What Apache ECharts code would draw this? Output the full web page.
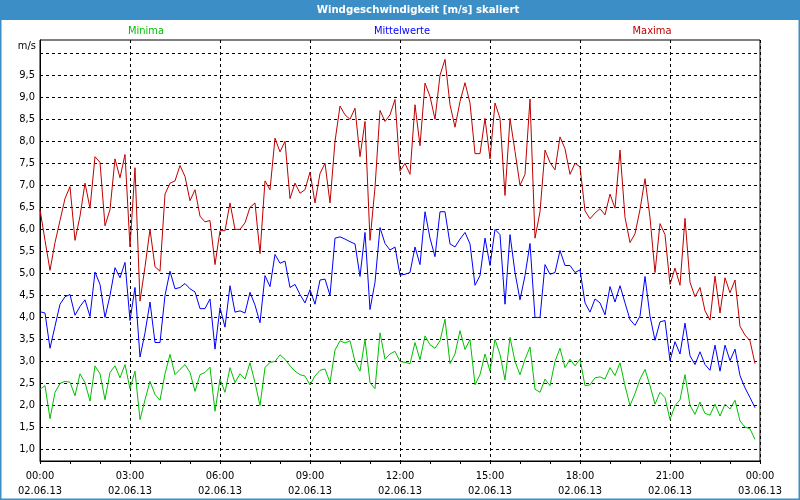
<!DOCTYPE html>
<html>
<head>
<meta charset="utf-8">
<script src="https://cdn.jsdelivr.net/npm/echarts@6/dist/echarts.min.js"></script>
<style>
html,body{margin:0;padding:0;background:#fff;}
#chart{width:800px;height:500px;}
</style>
</head>
<body>
<div id="chart"></div>
<script>
// ---- data (10-minute samples, 02.06.13 00:00 .. 23:50) ----
var stepHours = 10 / 60;
var maxima = [6.45,5.75,5.07,5.7,6.2,6.7,6.97,5.75,6.3,7.05,6.48,7.65,7.52,6.08,6.45,7.6,7.17,7.7,5.6,7.4,
4.37,5.15,6.0,5.15,5.05,6.8,7.05,7.1,7.45,7.2,6.65,6.9,6.3,6.17,6.2,5.2,5.97,5.97,6.6,6.0,
6.0,6.15,6.5,6.6,5.45,7.1,6.9,8.07,7.76,8.0,6.7,7.05,6.82,6.9,7.3,6.6,7.27,7.5,6.6,8.0,
8.8,8.6,8.5,8.75,7.65,8.45,5.75,6.95,8.7,8.45,8.6,8.95,7.32,7.5,7.25,8.83,7.9,9.32,9.02,8.5,
9.5,9.86,8.83,8.32,8.9,9.33,8.87,7.72,7.72,8.52,7.6,8.87,8.52,6.77,8.52,7.77,7.0,7.25,8.96,5.8,
6.4,7.8,7.52,7.35,8.1,7.83,7.25,7.5,7.42,6.42,6.24,6.37,6.47,6.33,6.8,6.48,7.8,6.27,5.7,5.9,
6.45,7.15,6.27,5.02,6.13,5.88,4.75,5.12,4.73,6.25,4.8,4.47,4.68,4.15,3.94,4.94,4.1,4.9,4.56,4.85,
3.8,3.6,3.47,2.95];
var mittelwerte = [4.13,4.1,3.3,3.8,4.3,4.47,4.52,4.05,4.25,4.4,4.02,5.03,4.75,4.0,4.5,5.13,4.9,5.25,3.93,4.68,
3.1,3.65,4.35,3.43,3.43,4.5,5.05,4.65,4.68,4.77,4.65,4.58,4.2,4.2,4.42,3.28,4.22,3.78,4.72,4.12,
4.15,4.1,4.57,4.28,3.88,4.95,4.7,5.43,5.23,5.28,4.68,4.75,4.52,4.33,4.63,4.3,4.85,4.87,4.5,5.8,
5.83,5.78,5.72,5.67,4.93,5.93,4.18,4.8,6.04,5.68,5.53,5.6,4.96,4.98,5.02,5.6,5.2,6.4,5.8,5.38,
6.4,6.4,5.67,5.6,5.78,5.93,5.67,4.73,4.95,5.8,5.18,6.0,5.88,4.3,5.88,5.02,4.4,4.95,5.68,4.0,
4.0,5.2,4.98,5.02,5.52,5.18,5.18,5.02,5.08,4.33,4.12,4.42,4.33,4.06,4.7,4.35,4.72,4.33,3.95,3.82,
4.03,4.93,4.03,3.48,3.9,3.93,3.02,3.45,3.17,3.87,3.13,2.93,3.22,2.93,2.8,3.37,2.78,3.37,3.02,3.28,
2.68,2.4,2.18,1.95];
var minima = [2.37,2.45,1.7,2.3,2.5,2.55,2.53,2.22,2.72,2.52,2.1,2.9,2.72,2.13,2.75,2.9,2.63,2.93,2.38,2.78,
1.68,2.13,2.55,2.25,2.12,2.72,3.16,2.7,2.82,2.93,2.75,2.32,2.7,2.75,2.87,1.87,2.6,2.3,2.86,2.52,
2.72,2.6,2.97,2.52,2.0,2.86,2.98,3.0,3.15,3.05,2.9,2.78,2.7,2.67,2.47,2.67,2.8,2.83,2.52,3.26,
3.47,3.42,3.47,3.0,2.78,3.5,2.52,2.38,3.65,3.05,3.17,3.23,3.0,2.98,2.95,3.43,3.04,3.58,3.38,3.3,
3.47,3.96,2.95,3.17,3.7,3.27,3.5,2.47,2.7,3.17,2.78,3.5,3.16,2.58,3.55,3.0,2.7,3.05,3.33,2.37,
2.3,2.6,2.45,3.0,3.3,2.86,3.05,2.9,3.05,2.45,2.47,2.63,2.65,2.6,2.86,2.68,2.97,2.45,2.0,2.27,
2.6,2.82,2.45,2.03,2.3,2.18,1.68,2.0,2.13,2.7,2.0,1.8,2.08,1.82,1.78,2.03,1.76,2.03,1.92,2.12,
1.65,1.51,1.47,1.23];
var xTickTimes = ["00:00","03:00","06:00","09:00","12:00","15:00","18:00","21:00","00:00"];
var xTickDates = ["02.06.13","02.06.13","02.06.13","02.06.13","02.06.13","02.06.13","02.06.13","02.06.13","03.06.13"];
var yGridValues = [1.0,1.5,2.0,2.5,3.0,3.5,4.0,4.5,5.0,5.5,6.0,6.5,7.0,7.5,8.0,8.5,9.0,9.5,10.0];
var yLabelValues = [1.0,1.5,2.0,2.5,3.0,3.5,4.0,4.5,5.0,5.5,6.0,6.5,7.0,7.5,8.0,8.5,9.0,9.5];
var titleText = "Windgeschwindigkeit [m/s] skaliert";
var seriesNames = ["Minima","Mittelwerte","Maxima"];
var unitText = "m/s";

var FONT = "'DejaVu Sans Condensed', 'Liberation Sans', sans-serif";
var colors = {Minima:'#00c000', Mittelwerte:'#0000ff', Maxima:'#c00000'};

function toPairs(arr){ return arr.map(function(v,i){ return [i*stepHours, v]; }); }

var chart = echarts.init(document.getElementById('chart'), null, {renderer:'canvas'});
var option = {
  animation:false,
  backgroundColor:'#ffffff',
  textStyle:{fontFamily:FONT},
  grid:{left:40, top:40, right:40, bottom:39, show:true, borderColor:'#000', borderWidth:1, backgroundColor:'rgba(0,0,0,0)'},
  xAxis:{
    type:'value', min:0, max:24, interval:3,
    axisLine:{show:true, lineStyle:{color:'#000', width:1}},
    axisTick:{show:true, length:3, lineStyle:{color:'#000'}},
    minorTick:{show:true, splitNumber:3, length:3, lineStyle:{color:'#000'}},
    splitLine:{show:true, lineStyle:{color:'#000', width:1, type:[3,3]}},
    axisLabel:{
      margin:8, fontSize:11, lineHeight:15, color:'#000', fontFamily:FONT,
      showMinLabel:true, showMaxLabel:true,
      formatter:function(v){ var k=Math.round(v/3); return xTickTimes[k]+"\n"+xTickDates[k]; }
    }
  },
  yAxis:{
    type:'value', min:0.74, max:10.3,
    axisLine:{show:true, lineStyle:{color:'#000', width:1}},
    axisTick:{show:false, customValues:yGridValues},
    splitLine:{show:true, lineStyle:{color:'#000', width:1, type:[3,3]}},
    axisLabel:{
      customValues:yLabelValues, margin:5, fontSize:11, color:'#000', fontFamily:FONT,
      formatter:function(v){ return v.toFixed(1).replace('.', ','); }
    }
  },
  graphic:[
    {type:'rect', shape:{x:0,y:0,width:800,height:20}, style:{fill:'#3c8fc6'}, silent:true, z:0},
    {type:'rect', shape:{x:0.75,y:0.75,width:798.5,height:498.5}, style:{fill:'none', stroke:'#3c8fc6', lineWidth:1.5}, silent:true, z:0},
    {type:'text', x:418, y:10, style:{text:titleText, fill:'#fff', font:"bold 11.3px "+FONT, textAlign:'center', textVerticalAlign:'middle'}, z:10},
    {type:'text', x:146, y:31, style:{text:seriesNames[0], fill:colors.Minima, font:"11px "+FONT, textAlign:'center', textVerticalAlign:'middle'}, z:10},
    {type:'text', x:402, y:31, style:{text:seriesNames[1], fill:colors.Mittelwerte, font:"11px "+FONT, textAlign:'center', textVerticalAlign:'middle'}, z:10},
    {type:'text', x:652, y:31, style:{text:seriesNames[2], fill:colors.Maxima, font:"11px "+FONT, textAlign:'center', textVerticalAlign:'middle'}, z:10},
    {type:'text', x:36, y:46, style:{text:unitText, fill:'#000', font:"11px "+FONT, textAlign:'right', textVerticalAlign:'middle'}, z:10}
  ],
  series:[
    {name:seriesNames[2], type:'line', data:toPairs(maxima), showSymbol:false, symbol:'none', lineStyle:{color:colors.Maxima, width:1}, itemStyle:{color:colors.Maxima}, z:3},
    {name:seriesNames[1], type:'line', data:toPairs(mittelwerte), showSymbol:false, symbol:'none', lineStyle:{color:colors.Mittelwerte, width:1}, itemStyle:{color:colors.Mittelwerte}, z:3},
    {name:seriesNames[0], type:'line', data:toPairs(minima), showSymbol:false, symbol:'none', lineStyle:{color:colors.Minima, width:1}, itemStyle:{color:colors.Minima}, z:3}
  ]
};
chart.setOption(option);
</script>
</body>
</html>
